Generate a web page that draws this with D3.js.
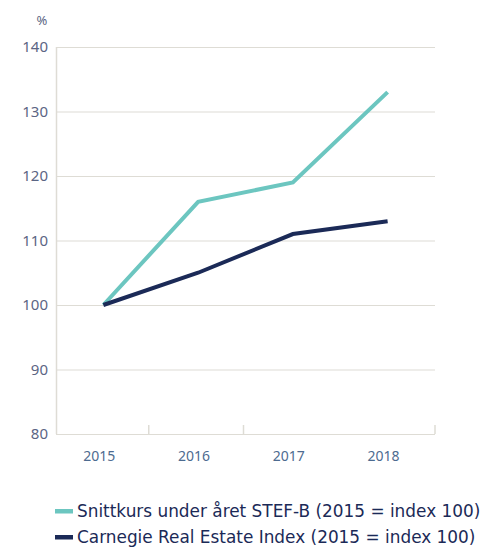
<!DOCTYPE html>
<html>
<head>
<meta charset="utf-8">
<script src="https://cdn.jsdelivr.net/npm/d3@7"></script>
<style>
  body { margin: 0; background: #fff; }
  svg text { font-family: "Noto Sans", sans-serif; }
  svg .legend text { font-family: "DejaVu Sans", sans-serif; }
</style>
</head>
<body>
<svg width="484" height="547"></svg>
<script>
// data
var years = ["2015", "2016", "2017", "2018"];
var stef = [100, 116, 119, 133];
var carnegie = [100, 105, 111, 113];
var yTicks = [80, 90, 100, 110, 120, 130, 140];
var seriesNames = ["Snittkurs under året STEF-B (2015 = index 100)", "Carnegie Real Estate Index (2015 = index 100)"];
var colors = ["#6cc6c0", "#1b2a57"];

var svg = d3.select("svg"),
    margin = {top: 47, right: 49, bottom: 113, left: 56},
    width = +svg.attr("width") - margin.left - margin.right,
    height = +svg.attr("height") - margin.top - margin.bottom;

var x = d3.scaleBand().domain(years).range([0, width]);
var y = d3.scaleLinear().domain([80, 140]).range([height, 0]);

var g = svg.append("g")
    .attr("transform", "translate(" + margin.left + "," + margin.top + ")");

// gridlines
g.append("g")
    .selectAll("line")
    .data(yTicks)
    .enter().append("line")
    .attr("x1", 0)
    .attr("x2", width)
    .attr("y1", function(d) { return y(d) + 0.5; })
    .attr("y2", function(d) { return y(d) + 0.5; })
    .attr("stroke", "#dedcd5")
    .attr("stroke-width", 1.2);

// left axis line
g.append("line")
    .attr("x1", 0.5).attr("x2", 0.5)
    .attr("y1", 0).attr("y2", height)
    .attr("stroke", "#dedcd5")
    .attr("stroke-width", 1.5);

// y labels
g.append("g")
    .selectAll("text")
    .data(yTicks)
    .enter().append("text")
    .attr("x", -8)
    .attr("y", function(d) { return y(d); })
    .attr("dy", "0.35em")
    .attr("text-anchor", "end")
    .attr("fill", "#5b6584")
    .attr("font-size", 15)
    .text(function(d) { return d; });

g.append("text")
    .attr("x", -14)
    .attr("y", -22)
    .attr("text-anchor", "middle")
    .attr("fill", "#5b6584")
    .attr("font-size", 13)
    .text("%");

// category dividers (only the first two show in the original)
g.append("g")
    .selectAll("line")
    .data(years.slice(1, 3))
    .enter().append("line")
    .attr("x1", function(d) { return x(d) - 2; })
    .attr("x2", function(d) { return x(d) - 2; })
    .attr("y1", height - 9)
    .attr("y2", height)
    .attr("stroke", "#dedcd5")
    .attr("stroke-width", 1.5);

// right end tick
g.append("line")
    .attr("x1", width).attr("x2", width)
    .attr("y1", height - 9).attr("y2", height)
    .attr("stroke", "#dedcd5")
    .attr("stroke-width", 1.5);

// x labels
g.append("g")
    .selectAll("text")
    .data(years)
    .enter().append("text")
    .attr("x", function(d) { return x(d) + x.bandwidth() / 2 - 4; })
    .attr("y", height + 27)
    .attr("text-anchor", "middle")
    .attr("fill", "#4d6b90")
    .attr("font-size", 14)
    .text(function(d) { return d; });

var line = d3.line()
    .x(function(d, i) { return x(years[i]) + x.bandwidth() / 2; })
    .y(function(d) { return y(d); });

[stef, carnegie].forEach(function(s, i) {
    g.append("path")
        .datum(s)
        .attr("fill", "none")
        .attr("stroke", colors[i])
        .attr("stroke-width", 4)
        .attr("d", line);
});

// legend
var legend = svg.append("g")
    .attr("class", "legend")
    .selectAll("g")
    .data(seriesNames)
    .enter().append("g")
    .attr("transform", function(d, i) { return "translate(55," + (511 + i * 26) + ")"; });

legend.append("rect")
    .attr("x", 0)
    .attr("y", -2)
    .attr("width", 18)
    .attr("height", 4.5)
    .attr("fill", function(d, i) { return colors[i]; });

legend.append("text")
    .attr("x", 22)
    .attr("y", 0)
    .attr("dy", "0.35em")
    .attr("fill", "#1b2a57")
    .attr("font-size", 16.9)
    .text(function(d) { return d; });
</script>
</body>
</html>
